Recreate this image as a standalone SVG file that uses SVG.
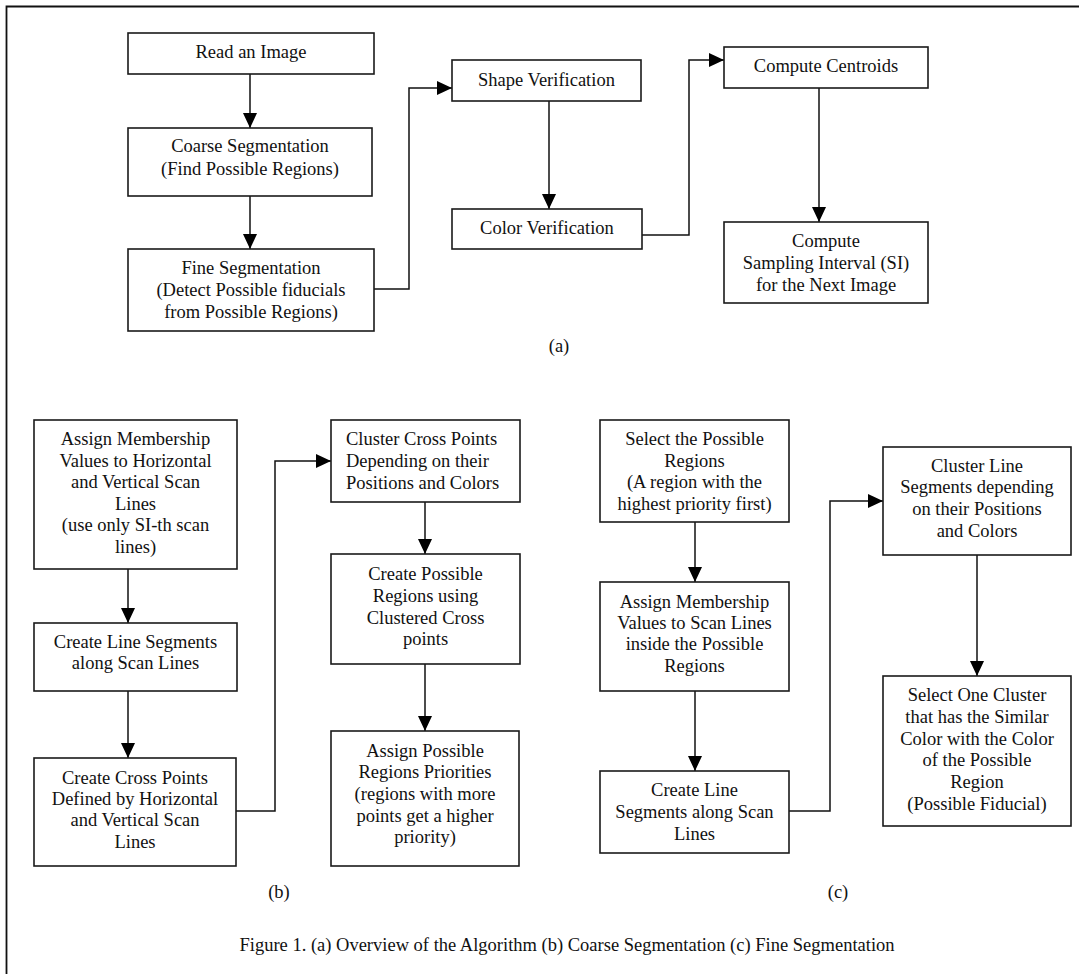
<svg xmlns="http://www.w3.org/2000/svg" width="1079" height="974" viewBox="0 0 1079 974">
<style>
.box{fill:#fff;stroke:#1a1a1a;stroke-width:1.6}
.t{font-family:"Liberation Serif","Times New Roman",serif;font-size:18.5px;fill:#111;text-anchor:middle}
.ts{text-anchor:start}
.c{fill:none;stroke:#111;stroke-width:1.5;marker-end:url(#ah)}
</style>
<defs>
<marker id="ah" markerUnits="userSpaceOnUse" markerWidth="15" markerHeight="14" refX="15" refY="7" orient="auto">
<path d="M0,0 L15,7 L0,14 z" fill="#000"/>
</marker>
</defs>
<rect width="1079" height="974" fill="#fff"/>
<path d="M6.5,974 V6.5 H1079" fill="none" stroke="#111" stroke-width="1.8"/>

<g id="connectors">
<path class="c" d="M250,74 V128"/>
<path class="c" d="M250,196 V249"/>
<path class="c" d="M374,289 H409 V88 H452"/>
<path class="c" d="M549,101 V209"/>
<path class="c" d="M642,235 H689 V60 H724"/>
<path class="c" d="M819,88 V222"/>
<path class="c" d="M128,569 V623"/>
<path class="c" d="M128,691 V758"/>
<path class="c" d="M236,811 H275 V461 H331"/>
<path class="c" d="M425,502 V554"/>
<path class="c" d="M425,664 V731"/>
<path class="c" d="M695,522 V582"/>
<path class="c" d="M695,691 V771"/>
<path class="c" d="M789,811 H830 V501 H883"/>
<path class="c" d="M977,555 V676"/>
</g>

<g id="read">
<rect class="box" x="128" y="33" width="246" height="41"/>
<text class="t" x="251" y="58">Read an Image</text>
</g>
<g id="coarse">
<rect class="box" x="128" y="128" width="244" height="68"/>
<text class="t" x="250" y="152">Coarse Segmentation</text>
<text class="t" x="250" y="175">(Find Possible Regions)</text>
</g>
<g id="fine">
<rect class="box" x="128" y="249" width="246" height="82"/>
<text class="t" x="251" y="274">Fine Segmentation</text>
<text class="t" x="251" y="296">(Detect Possible fiducials</text>
<text class="t" x="251" y="318">from Possible Regions)</text>
</g>
<g id="shape">
<rect class="box" x="452" y="60" width="189" height="41"/>
<text class="t" x="546.5" y="86">Shape Verification</text>
</g>
<g id="color">
<rect class="box" x="452" y="209" width="190" height="40"/>
<text class="t" x="547" y="234">Color Verification</text>
</g>
<g id="centroids">
<rect class="box" x="724" y="47" width="204" height="41"/>
<text class="t" x="826" y="72">Compute Centroids</text>
</g>
<g id="si">
<rect class="box" x="724" y="222" width="204" height="81"/>
<text class="t" x="826" y="247">Compute</text>
<text class="t" x="826" y="269">Sampling Interval (SI)</text>
<text class="t" x="826" y="291">for the Next Image</text>
</g>
<text class="t" x="559" y="352">(a)</text>

<g id="b1">
<rect class="box" x="34" y="420" width="203" height="149"/>
<text class="t" x="135.5" y="445">Assign Membership</text>
<text class="t" x="135.5" y="467">Values to Horizontal</text>
<text class="t" x="135.5" y="488">and Vertical Scan</text>
<text class="t" x="135.5" y="509.5">Lines</text>
<text class="t" x="135.5" y="531">(use only SI-th scan</text>
<text class="t" x="135.5" y="553">lines)</text>
</g>
<g id="b2">
<rect class="box" x="34" y="623" width="203" height="68"/>
<text class="t" x="135.5" y="648">Create Line Segments</text>
<text class="t" x="135.5" y="669">along Scan Lines</text>
</g>
<g id="b3">
<rect class="box" x="34" y="758" width="202" height="108"/>
<text class="t" x="135" y="784">Create Cross Points</text>
<text class="t" x="135" y="805">Defined by Horizontal</text>
<text class="t" x="135" y="826">and Vertical Scan</text>
<text class="t" x="135" y="847.5">Lines</text>
</g>
<g id="b4">
<rect class="box" x="331" y="420" width="189" height="82"/>
<text class="t ts" x="346" y="445">Cluster Cross Points</text>
<text class="t ts" x="346" y="467">Depending on their</text>
<text class="t ts" x="346" y="488.5">Positions and Colors</text>
</g>
<g id="b5">
<rect class="box" x="331" y="554" width="189" height="110"/>
<text class="t" x="425.5" y="580">Create Possible</text>
<text class="t" x="425.5" y="602">Regions using</text>
<text class="t" x="425.5" y="623.5">Clustered Cross</text>
<text class="t" x="425.5" y="645">points</text>
</g>
<g id="b6">
<rect class="box" x="331" y="731" width="188" height="135"/>
<text class="t" x="425" y="756.5">Assign Possible</text>
<text class="t" x="425" y="777.5">Regions Priorities</text>
<text class="t" x="425" y="800">(regions with more</text>
<text class="t" x="425" y="822">points get a higher</text>
<text class="t" x="425" y="843">priority)</text>
</g>
<text class="t" x="279" y="898">(b)</text>

<g id="c1">
<rect class="box" x="600" y="420" width="189" height="102"/>
<text class="t" x="694.5" y="445">Select the Possible</text>
<text class="t" x="694.5" y="467">Regions</text>
<text class="t" x="694.5" y="488">(A region with the</text>
<text class="t" x="694.5" y="510">highest priority first)</text>
</g>
<g id="c2">
<rect class="box" x="600" y="582" width="189" height="109"/>
<text class="t" x="694.5" y="607.5">Assign Membership</text>
<text class="t" x="694.5" y="629">Values to Scan Lines</text>
<text class="t" x="694.5" y="650">inside the Possible</text>
<text class="t" x="694.5" y="672">Regions</text>
</g>
<g id="c3">
<rect class="box" x="600" y="771" width="189" height="82"/>
<text class="t" x="694.5" y="796">Create Line</text>
<text class="t" x="694.5" y="818">Segments along Scan</text>
<text class="t" x="694.5" y="840">Lines</text>
</g>
<g id="c4">
<rect class="box" x="883" y="447" width="188" height="108"/>
<text class="t" x="977" y="472">Cluster Line</text>
<text class="t" x="977" y="493">Segments depending</text>
<text class="t" x="977" y="515">on their Positions</text>
<text class="t" x="977" y="537">and Colors</text>
</g>
<g id="c5">
<rect class="box" x="883" y="676" width="188" height="150"/>
<text class="t" x="977" y="701">Select One Cluster</text>
<text class="t" x="977" y="722.5">that has the Similar</text>
<text class="t" x="977" y="745">Color with the Color</text>
<text class="t" x="977" y="766">of the Possible</text>
<text class="t" x="977" y="787.5">Region</text>
<text class="t" x="977" y="810">(Possible Fiducial)</text>
</g>
<text class="t" x="838" y="898">(c)</text>

<text class="t" x="567" y="951">Figure 1. (a) Overview of the Algorithm (b) Coarse Segmentation (c) Fine Segmentation</text>
</svg>
